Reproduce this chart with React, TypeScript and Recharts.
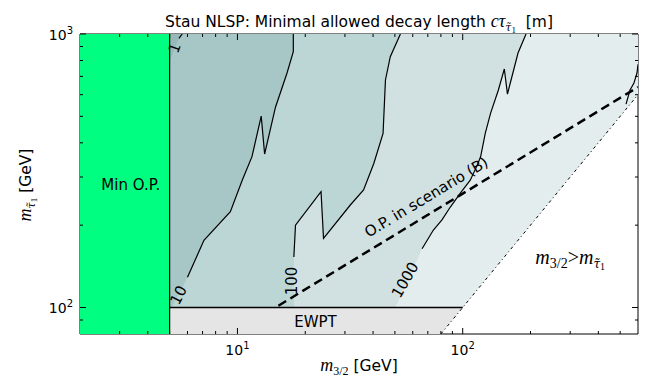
import { ScatterChart, Scatter, XAxis, YAxis } from "recharts";

type P = { x: number; y: number };

const X_DOMAIN: [number, number] = [2, 600];
const Y_DOMAIN: [number, number] = [80, 1000];

const xTicks = [3, 4, 5, 6, 7, 8, 9, 10, 20, 30, 40, 50, 60, 70, 80, 90, 100, 200, 300, 400, 500];
const yTicks = [90, 100, 200, 300, 400, 500, 600, 700, 800, 900, 1000];

// excluded: minimal O.P. (m3/2 < 5 GeV)
const minOP: P[] = [{ x: 2, y: 80 }, { x: 5, y: 80 }, { x: 5, y: 1000 }, { x: 2, y: 1000 }];
const minOPEdge: P[] = [{ x: 5, y: 80 }, { x: 5, y: 1000 }];
// excluded: EWPT
const ewpt: P[] = [{ x: 5, y: 80 }, { x: 80, y: 80 }, { x: 100, y: 100 }, { x: 5, y: 100 }];
const ewptEdge: P[] = [{ x: 5, y: 100 }, { x: 100, y: 100 }];
// allowed wedge, m3/2 < m_stau
const wedge: P[] = [{ x: 5, y: 100 }, { x: 100, y: 100 }, { x: 600, y: 600 }, { x: 600, y: 1000 }, { x: 5, y: 1000 }];
// m3/2 = m_stau
const diagonal: P[] = [{ x: 80, y: 80 }, { x: 600, y: 600 }];
// O.P. in scenario (B)
const scenarioB: P[] = [{ x: 15.2, y: 101.5 }, { x: 600, y: 640 }];

// c tau contours (drawn part, then the part hidden under the label)
const contour1: P[] = [{ x: 5.69, y: 1000 }, { x: 5.5, y: 964 }];
const contour1Tail: P[] = [{ x: 5.25, y: 880 }, { x: 5, y: 800 }];

const contour10: P[] = [
  { x: 17.7, y: 1000 }, { x: 17.7, y: 861 }, { x: 16.6, y: 720 }, { x: 14.75, y: 540 },
  { x: 13.2, y: 364 }, { x: 12.75, y: 501 }, { x: 11.6, y: 356 }, { x: 10.5, y: 292 },
  { x: 9.3, y: 224 }, { x: 7.1, y: 176 }, { x: 6.0, y: 129 },
];
const contour10Tail: P[] = [{ x: 5.48, y: 111 }, { x: 5.1, y: 100 }];

const contour100: P[] = [
  { x: 52.9, y: 1000 }, { x: 47.7, y: 826 }, { x: 45.4, y: 679 }, { x: 44.3, y: 433 },
  { x: 40.3, y: 336 }, { x: 36.3, y: 269 }, { x: 31.7, y: 237 }, { x: 24.1, y: 179 },
  { x: 23.5, y: 265 }, { x: 18.1, y: 200 }, { x: 17.8, y: 153 },
];
const contour100Tail: P[] = [{ x: 17.8, y: 100 }];

const contour1000: P[] = [
  { x: 191, y: 1000 }, { x: 176, y: 852 }, { x: 158, y: 603 }, { x: 153, y: 745 },
  { x: 144, y: 624 }, { x: 133, y: 514 }, { x: 126, y: 434 }, { x: 120, y: 355 },
  { x: 115, y: 326 }, { x: 108, y: 292 }, { x: 97.6, y: 262 }, { x: 88.1, y: 233 },
  { x: 80.9, y: 209 }, { x: 74.1, y: 192 }, { x: 66, y: 164 },
];
const contour1000Tail: P[] = [{ x: 62.7, y: 149 }, { x: 50.2, y: 100 }];

const contourCorner: P[] = [{ x: 600, y: 775 }, { x: 594, y: 720 }, { x: 575, y: 660 }, { x: 553, y: 624 }, { x: 531, y: 554 }];

const contourLabels = [
  { x: 5.26, y: 889, text: "1", angle: -70 },
  { x: 5.48, y: 111, text: "10", angle: -63 },
  { x: 17.55, y: 125, text: "100", angle: -90 },
  { x: 55.6, y: 126, text: "1000", angle: -60 },
];

const regionLabels = [
  { x: 3.36, y: 280, text: "Min O.P.", angle: 0 },
  { x: 22.2, y: 88.3, text: "EWPT", angle: 0 },
  { x: 69, y: 253, text: "O.P. in scenario (B)", angle: -31 },
];
const gravitinoLabel = [{ x: 300, y: 151 }];

const closeAt5 = (c: P[]) => [{ x: 5, y: 1000 }, ...c, { x: 5, y: 100 }];
const region1 = [{ x: 5, y: 1000 }, ...contour1, ...contour1Tail];
const region10 = closeAt5([...contour10, ...contour10Tail]);
const region100 = closeAt5([...contour100, ...contour100Tail]);
const region1000 = closeAt5([...contour1000, ...contour1000Tail]);

const SANS = "DejaVu Sans";
const MATH = "Liberation Serif";
const SUB = "DejaVu Serif";

const noDot = () => <g />;

const polygon = (fill: string) => (props: any) => {
  const pts = props.points as P[];
  const d = pts.map((p, i) => `${i ? "L" : "M"}${p.x},${p.y}`).join("") + "Z";
  return <path d={d} fill={fill} stroke="none" />;
};

const isMajor = (v: number) => Math.abs(Math.log10(v) - Math.round(Math.log10(v))) < 1e-9;

function Pow10({ x, y, v, anchor }: { x: number; y: number; v: number; anchor: "middle" | "end" }) {
  return (
    <text x={x} y={y} textAnchor={anchor} fontSize={14} fontFamily={SANS} fill="#000">
      10<tspan dy={-6} fontSize={10}>{Math.round(Math.log10(v))}</tspan>
    </text>
  );
}

function XTick({ x, y, payload, top }: any) {
  const v = payload.value;
  const len = isMajor(v) ? 6 : 3;
  const dir = top ? 1 : -1;
  return (
    <g>
      <line x1={x} x2={x} y1={y} y2={y + dir * len} stroke="#000" />
      {!top && isMajor(v) && <Pow10 x={x} y={y + 21} v={v} anchor="middle" />}
    </g>
  );
}

function YTick({ x, y, payload, right }: any) {
  const v = payload.value;
  const len = isMajor(v) ? 6 : 3;
  const dir = right ? -1 : 1;
  return (
    <g>
      <line x1={x} x2={x + dir * len} y1={y} y2={y} stroke="#000" />
      {!right && isMajor(v) && <Pow10 x={x - 7} y={y + 6} v={v} anchor="end" />}
    </g>
  );
}

const labelShape = (size: number) => (p: any) => (
  <text
    x={p.cx}
    y={p.cy}
    transform={`rotate(${p.payload.angle} ${p.cx} ${p.cy})`}
    textAnchor="middle"
    dominantBaseline="central"
    fontSize={size}
    fontFamily={SANS}
    fill="#000"
  >
    {p.payload.text}
  </text>
);

const gravitinoShape = (p: any) => (
  <text x={p.cx} y={p.cy + 5} textAnchor="middle" fontFamily={MATH} fontSize={20} fill="#000">
    <tspan fontStyle="italic">m</tspan>
    <tspan fontSize={14} dy={4}>3/2</tspan>
    <tspan dy={-4}>{">"}</tspan>
    <tspan fontStyle="italic">m</tspan>
    <tspan fontFamily={SUB} fontStyle="italic" fontSize={12} dy={4}>τ̃</tspan>
    <tspan fontSize={10} dy={2}>1</tspan>
  </text>
);

const line = (stroke: string, width: number, dash?: string) => ({
  stroke,
  strokeWidth: width,
  strokeDasharray: dash,
});

export default function App() {
  return (
    <div style={{ position: "absolute", left: 0, top: 0, width: 664, height: 380, background: "#fff" }}>
      <ScatterChart width={664} height={380} margin={{ top: 33, right: 25, bottom: 0, left: 1 }}>
        <Scatter data={minOP} line={polygon("#00ff80")} shape={noDot} isAnimationActive={false} />
        <Scatter data={ewpt} line={polygon("#e5e5e5")} shape={noDot} isAnimationActive={false} />
        <Scatter data={wedge} line={polygon("#e3eded")} shape={noDot} isAnimationActive={false} />
        <Scatter data={region1000} line={polygon("#d1e1e1")} shape={noDot} isAnimationActive={false} />
        <Scatter data={region100} line={polygon("#bcd5d5")} shape={noDot} isAnimationActive={false} />
        <Scatter data={region10} line={polygon("#a7c7c6")} shape={noDot} isAnimationActive={false} />
        <Scatter data={region1} line={polygon("#98b9b9")} shape={noDot} isAnimationActive={false} />

        <Scatter data={contour1} line={line("#000", 1.2)} shape={noDot} isAnimationActive={false} />
        <Scatter data={contour10} line={line("#000", 1.2)} shape={noDot} isAnimationActive={false} />
        <Scatter data={contour100} line={line("#000", 1.2)} shape={noDot} isAnimationActive={false} />
        <Scatter data={contour1000} line={line("#000", 1.2)} shape={noDot} isAnimationActive={false} />
        <Scatter data={contourCorner} line={line("#000", 1.2)} shape={noDot} isAnimationActive={false} />

        <Scatter data={minOPEdge} line={line("#000", 1.2)} shape={noDot} isAnimationActive={false} />
        <Scatter data={ewptEdge} line={line("#000", 1.5)} shape={noDot} isAnimationActive={false} />
        <Scatter data={diagonal} line={line("#000", 1, "3 3 1 3")} shape={noDot} isAnimationActive={false} />
        <Scatter data={scenarioB} line={line("#000", 2.5, "9 5")} shape={noDot} isAnimationActive={false} />

        <Scatter data={contourLabels} shape={labelShape(15)} isAnimationActive={false} />
        <Scatter data={regionLabels} shape={labelShape(15)} isAnimationActive={false} />
        <Scatter data={gravitinoLabel} shape={gravitinoShape} isAnimationActive={false} />

        <XAxis
          dataKey="x"
          type="number"
          scale="log"
          domain={X_DOMAIN}
          allowDataOverflow
          ticks={xTicks}
          interval={0}
          height={46}
          tickSize={0}
          tickMargin={0}
          tickLine={false}
          axisLine={{ stroke: "#000" }}
          tick={<XTick />}
        />
        <XAxis
          xAxisId="top"
          orientation="top"
          dataKey="x"
          type="number"
          scale="log"
          domain={X_DOMAIN}
          allowDataOverflow
          ticks={xTicks}
          interval={0}
          height={1}
          tickSize={0}
          tickMargin={0}
          tickLine={false}
          axisLine={{ stroke: "#000" }}
          tick={<XTick top />}
        />
        <YAxis
          dataKey="y"
          type="number"
          scale="log"
          domain={Y_DOMAIN}
          allowDataOverflow
          ticks={yTicks}
          interval={0}
          width={79}
          tickSize={0}
          tickMargin={0}
          tickLine={false}
          axisLine={{ stroke: "#000" }}
          tick={<YTick />}
        />
        <YAxis
          yAxisId="right"
          orientation="right"
          dataKey="y"
          type="number"
          scale="log"
          domain={Y_DOMAIN}
          allowDataOverflow
          ticks={yTicks}
          interval={0}
          width={1}
          tickSize={0}
          tickMargin={0}
          tickLine={false}
          axisLine={{ stroke: "#000" }}
          tick={<YTick right />}
        />
      </ScatterChart>

      <svg width={664} height={380} style={{ position: "absolute", left: 0, top: 0, pointerEvents: "none" }}>
        <text x={359} y={27} textAnchor="middle" fontSize={15.5} fontFamily={SANS} fill="#000">
          Stau NLSP: Minimal allowed decay length{"\u00a0"}
          <tspan fontFamily={MATH} fontStyle="italic" fontSize={18}>cτ</tspan>
          <tspan fontFamily={SUB} fontStyle="italic" fontSize={11} dy={4}>τ̃</tspan>
          <tspan fontFamily={MATH} fontSize={9} dy={2}>1</tspan>
          <tspan dy={-6}>{"\u00a0\u00a0[m]"}</tspan>
        </text>
        <text x={359} y={371} textAnchor="middle" fontSize={15.5} fontFamily={SANS} fill="#000">
          <tspan fontFamily={MATH} fontStyle="italic" fontSize={18}>m</tspan>
          <tspan fontFamily={MATH} fontSize={12} dy={4}>3/2</tspan>
          <tspan dy={-4}>{"\u00a0[GeV]"}</tspan>
        </text>
        <text
          x={31}
          y={185}
          transform="rotate(-90 31 185)"
          textAnchor="middle"
          fontSize={15.5}
          fontFamily={SANS}
          fill="#000"
        >
          <tspan fontFamily={MATH} fontStyle="italic" fontSize={18}>m</tspan>
          <tspan fontFamily={SUB} fontStyle="italic" fontSize={11} dy={4}>τ̃</tspan>
          <tspan fontFamily={MATH} fontSize={9} dy={2}>1</tspan>
          <tspan dy={-6}>{"\u00a0[GeV]"}</tspan>
        </text>
      </svg>
    </div>
  );
}
